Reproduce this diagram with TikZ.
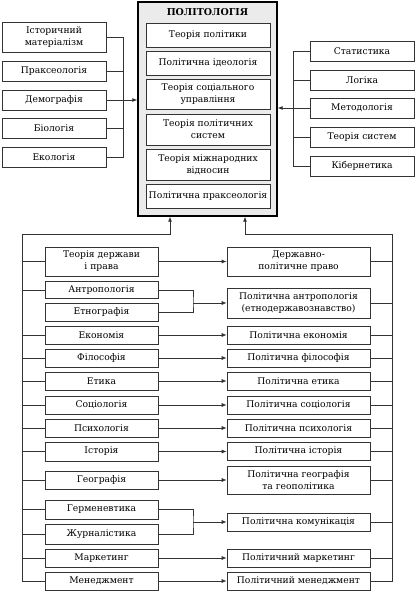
\documentclass[tikz,border=0pt]{standalone}
\usepackage{fontspec}
\setmainfont{DejaVu Serif}
\usetikzlibrary{arrows.meta}

\begin{document}
\begin{tikzpicture}[
    x=1pt,y=-1pt,>={Latex[length=5pt,width=4pt]},
    box/.style={draw=black!80,fill=white,align=center,inner sep=1pt,line width=.7pt,
      font=\fontsize{9.2}{12}\selectfont},
    tl/.style={box,minimum width=104,minimum height=20},
    inb/.style={box,minimum width=124,minimum height=24},
    lb/.style={box,minimum width=113,minimum height=18},
    rb/.style={box,minimum width=143,minimum height=18},
    wire/.style={black!80,line width=.7pt}
    ]
    \useasboundingbox (0,0) rectangle (416,591);
    % main block
    \node[draw,line width=1.4pt,fill=black!8,minimum width=139,minimum height=214] (pol) at (207.5,109) {};
    \node[font=\fontsize{9.5}{10}\selectfont\bfseries] (title) at (207.5,12) {ПОЛІТОЛОГІЯ};
    \node[inb] (tpol) at (208,35) {Теорія політики};
    \node[inb] (pid) at (208,63) {Політична ідеологія};
    \node[inb,minimum height=30] (tsu) at (208,94) {Теорія соціального\\управління};
    \node[inb,minimum height=31] (tps) at (208,129.5) {Теорія політичних\\систем};
    \node[inb,minimum height=31] (tmv) at (208,164.5) {Теорія міжнародних\\відносин};
    \node[inb] (ppr) at (208,196) {Політична праксеологія};
    % upper left
    \node[tl,minimum height=30] (ist) at (54,37) {Історичний\\матеріалізм};
    \node[tl] (prax) at (54,71) {Праксеологія};
    \node[tl] (dem) at (54,100) {Демографія};
    \node[tl] (bio) at (54,128.5) {Біологія};
    \node[tl] (eco) at (54,157.5) {Екологія};
    \coordinate (tlc) at (123,37);
    \foreach \n in {ist,prax,bio,eco} \draw[wire] (\n.east) -- (\n.east -| tlc);
    \draw[wire] (ist.east -| tlc) -- (eco.east -| tlc);
    \draw[wire,->] (dem.east) -- (dem.east -| pol.west);
    % upper right
    \node[tl] (stat) at (362,51.5) {Статистика};
    \node[tl] (log) at (362,80) {Логіка};
    \node[tl] (meth) at (362,108) {Методологія};
    \node[tl] (tsys) at (362,137) {Теорія систем};
    \node[tl] (kib) at (362,166) {Кібернетика};
    \coordinate (trc) at (293,51.5);
    \foreach \n in {stat,log,tsys,kib} \draw[wire] (\n.west) -- (\n.west -| trc);
    \draw[wire] (stat.west -| trc) -- (kib.west -| trc);
    \draw[wire,->] (meth.west) -- (meth.west -| pol.east);
    % lower left
    \node[lb,minimum height=29] (tdp) at (101.5,261.5) {Теорія держави\\і права};
    \node[lb,minimum height=17] (antr) at (101.5,290) {Антропологія};
    \node[lb] (etn) at (101.5,312) {Етнографія};
    \node[lb] (econ) at (101.5,335) {Економія};
    \node[lb] (fil) at (101.5,358) {Філософія};
    \node[lb] (eth) at (101.5,381) {Етика};
    \node[lb] (soc) at (101.5,405) {Соціологія};
    \node[lb] (psy) at (101.5,428) {Психологія};
    \node[lb,minimum height=19] (hist) at (101.5,451.5) {Історія};
    \node[lb] (geo) at (101.5,480) {Географія};
    \node[lb,minimum height=19] (herm) at (101.5,509.5) {Герменевтика};
    \node[lb,minimum height=20] (zhur) at (101.5,534) {Журналістика};
    \node[lb] (mark) at (101.5,558) {Маркетинг};
    \node[lb] (men) at (101.5,581) {Менеджмент};
    % lower right
    \node[rb,minimum height=29] (dpp) at (298.5,261.5) {Державно-\\політичне право};
    \node[rb,minimum height=30] (pant) at (298.5,303) {Політична антропологія\\(етнодержавознавство)};
    \node[rb] (pecon) at (298.5,335) {Політична економія};
    \node[rb] (pfil) at (298.5,358) {Політична філософія};
    \node[rb] (peth) at (298.5,381) {Політична етика};
    \node[rb] (psoc) at (298.5,405) {Політична соціологія};
    \node[rb] (ppsy) at (298.5,428) {Політична психологія};
    \node[rb] (phist) at (298.5,451.5) {Політична історія};
    \node[rb,minimum height=28] (pgeo) at (298.5,480) {Політична географія\\та геополітика};
    \node[rb] (pkom) at (298.5,522) {Політична комунікація};
    \node[rb] (pmark) at (298.5,558) {Політичний маркетинг};
    \node[rb] (pmen) at (298.5,581) {Політичний менеджмент};
    % collectors
    \coordinate (lcol) at (22,234);
    \coordinate (rcol) at (392,234);
    \foreach \n in {tdp,antr,econ,fil,eth,soc,psy,hist,geo,herm,zhur,mark} \draw[wire] (\n.west) -- (\n.west -| lcol);
    \draw[wire,->] (men.west) -| (lcol) -| ([xshift=-37.5pt]pol.south);
    \foreach \n in {dpp,pant,pecon,pfil,peth,psoc,ppsy,phist,pgeo,pkom,pmark} \draw[wire] (\n.east) -- (\n.east -| rcol);
    \draw[wire,->] (pmen.east) -| (rcol) -| ([xshift=37.5pt]pol.south);
    % left to right
    \foreach \a/\b in {tdp/dpp,econ/pecon,fil/pfil,eth/peth,soc/psoc,psy/ppsy,hist/phist,geo/pgeo,mark/pmark,men/pmen}
      \draw[wire,->] (\a.east) -- (\b.west);
    \coordinate (bra) at (193,303);
    \coordinate (brb) at (193,522);
    \draw[wire] (antr.east) -| (bra) |- (etn.east);
    \draw[wire,->] (bra) -- (pant.west);
    \draw[wire] (herm.east) -| (brb) |- (zhur.east);
    \draw[wire,->] (brb) -- (pkom.west);
\end{tikzpicture}
\end{document}
